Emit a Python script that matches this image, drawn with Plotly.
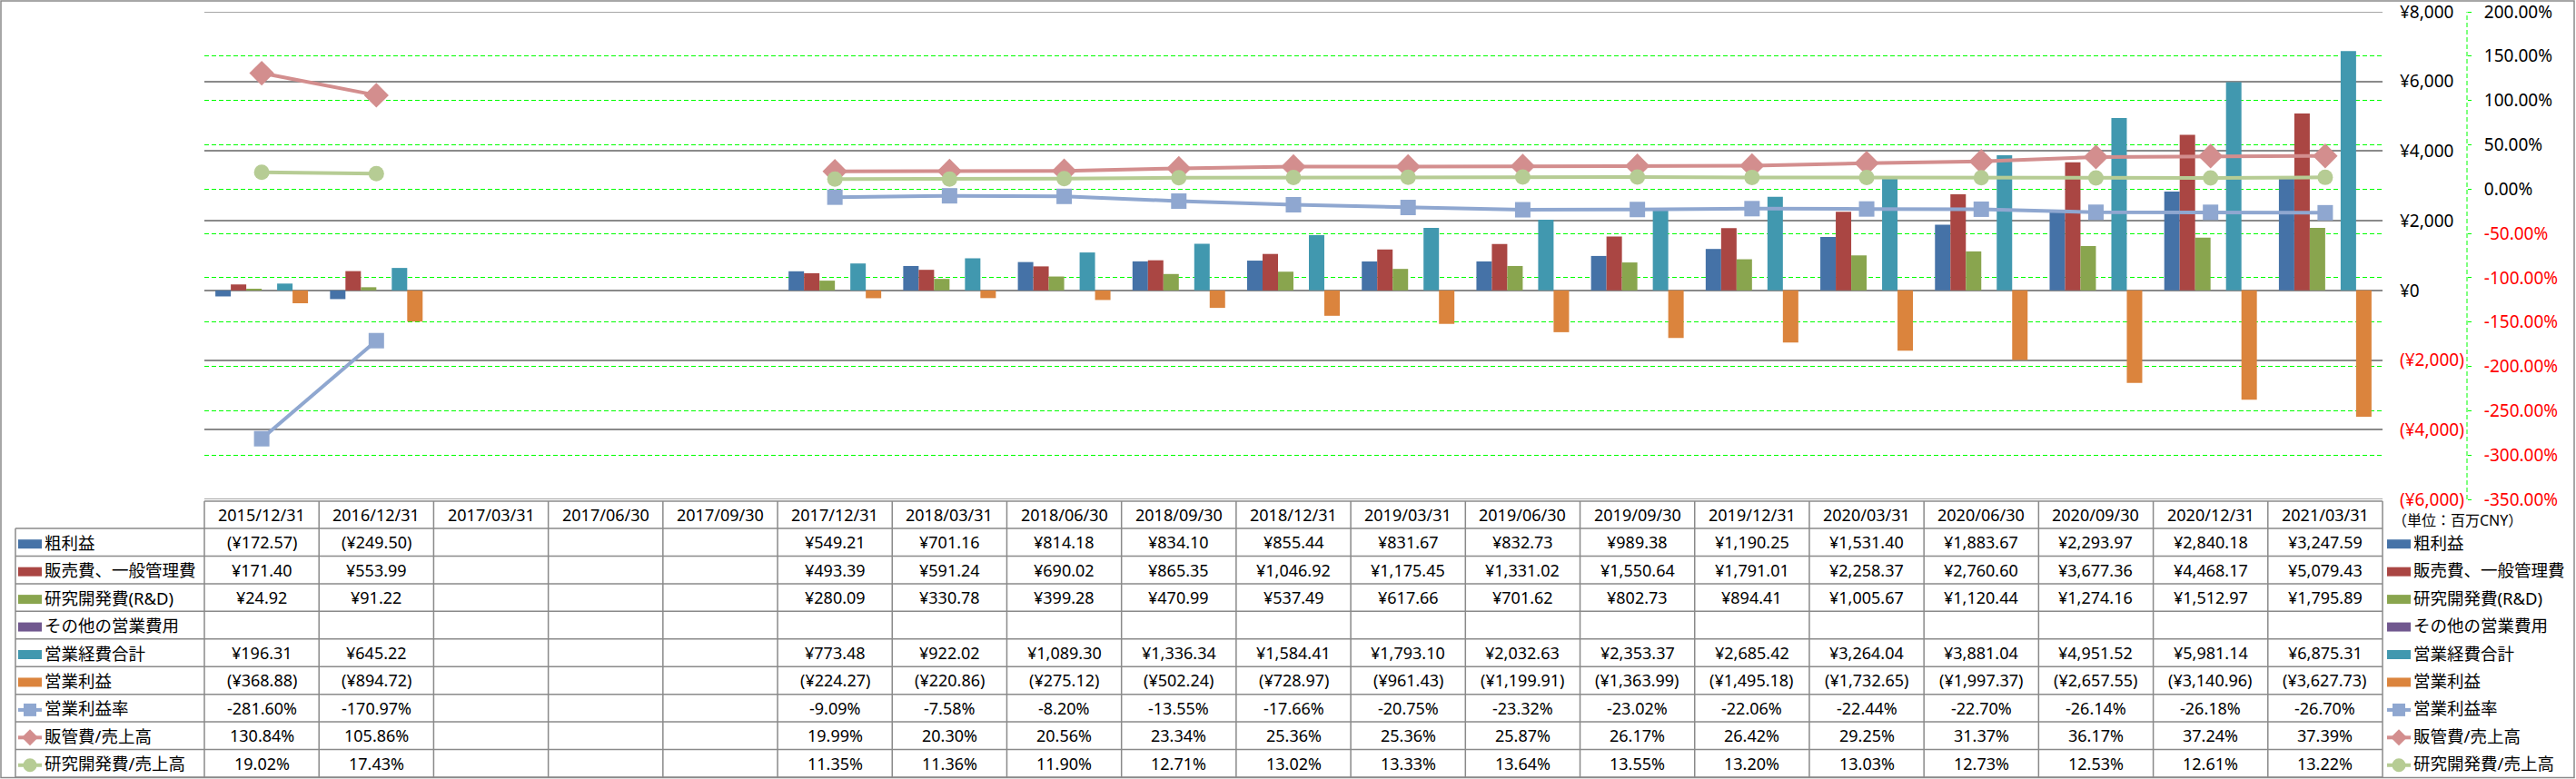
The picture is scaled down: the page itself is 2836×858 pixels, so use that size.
import plotly.graph_objects as go

categories = ["2015/12/31", "2016/12/31", "2017/03/31", "2017/06/30", "2017/09/30",
              "2017/12/31", "2018/03/31", "2018/06/30", "2018/09/30", "2018/12/31",
              "2019/03/31", "2019/06/30", "2019/09/30", "2019/12/31", "2020/03/31",
              "2020/06/30", "2020/09/30", "2020/12/31", "2021/03/31"]

gross_profit = [-172.57, -249.50, None, None, None, 549.21, 701.16, 814.18, 834.10, 855.44,
                831.67, 832.73, 989.38, 1190.25, 1531.40, 1883.67, 2293.97, 2840.18, 3247.59]
sga_expense = [171.40, 553.99, None, None, None, 493.39, 591.24, 690.02, 865.35, 1046.92,
               1175.45, 1331.02, 1550.64, 1791.01, 2258.37, 2760.60, 3677.36, 4468.17, 5079.43]
rnd_expense = [24.92, 91.22, None, None, None, 280.09, 330.78, 399.28, 470.99, 537.49,
               617.66, 701.62, 802.73, 894.41, 1005.67, 1120.44, 1274.16, 1512.97, 1795.89]
other_opex = [None] * 19
total_opex = [196.31, 645.22, None, None, None, 773.48, 922.02, 1089.30, 1336.34, 1584.41,
              1793.10, 2032.63, 2353.37, 2685.42, 3264.04, 3881.04, 4951.52, 5981.14, 6875.31]
operating_profit = [-368.88, -894.72, None, None, None, -224.27, -220.86, -275.12, -502.24, -728.97,
                    -961.43, -1199.91, -1363.99, -1495.18, -1732.65, -1997.37, -2657.55, -3140.96, -3627.73]
op_margin = [-281.60, -170.97, None, None, None, -9.09, -7.58, -8.20, -13.55, -17.66,
             -20.75, -23.32, -23.02, -22.06, -22.44, -22.70, -26.14, -26.18, -26.70]
sga_ratio = [130.84, 105.86, None, None, None, 19.99, 20.30, 20.56, 23.34, 25.36,
             25.36, 25.87, 26.17, 26.42, 29.25, 31.37, 36.17, 37.24, 37.39]
rnd_ratio = [19.02, 17.43, None, None, None, 11.35, 11.36, 11.90, 12.71, 13.02,
             13.33, 13.64, 13.55, 13.20, 13.03, 12.73, 12.53, 12.61, 13.22]

bar_names = ["粗利益", "販売費、一般管理費", "研究開発費(R&D)", "その他の営業費用", "営業経費合計", "営業利益"]
bar_series = [gross_profit, sga_expense, rnd_expense, other_opex, total_opex, operating_profit]
bar_colors = ["#4572A7", "#AA4643", "#89A54E", "#71588F", "#4198AF", "#DB843D"]

line_names = ["営業利益率", "販管費/売上高", "研究開発費/売上高"]
line_series = [op_margin, sga_ratio, rnd_ratio]
line_colors = ["#8FA7D0", "#D38E8E", "#B6CC94"]
line_symbols = ["square", "diamond", "circle"]
line_sizes = [17, 21, 17]

yen_ticks = list(range(-6000, 8001, 2000))
pct_ticks = list(range(-350, 201, 50))

# ---- geometry ----
W, H = 2836, 858
L, R, T, B = 225, 120, 13, 308
PW = W - L - R
PLOT_RIGHT = 2623
XD = (PLOT_RIGHT - L) / PW
PLOT_BOTTOM = H - B
PH = PLOT_BOTTOM - T

def px(p):
    return (p - L) / PW

def py(p):
    return (PLOT_BOTTOM - p) / PH

FONT = "Noto Sans, Noto Sans CJK JP, sans-serif"
GRID = "#8A8A8A"

fig = go.Figure()

n = len(bar_series)
bw = 0.808 / n
for k, (name, vals, col) in enumerate(zip(bar_names, bar_series, bar_colors)):
    fig.add_trace(go.Bar(x=categories, y=vals, name=name, marker=dict(color=col, line=dict(width=0)),
                         width=bw, offset=-0.404 + k * bw, yaxis="y", showlegend=False,
                         hoverinfo="skip"))

for name, vals, col, sym, sz in zip(line_names, line_series, line_colors, line_symbols, line_sizes):
    fig.add_trace(go.Scatter(x=categories, y=vals, name=name, mode="lines+markers", yaxis="y2",
                             line=dict(color=col, width=4),
                             marker=dict(symbol=sym, size=sz, color=col, line=dict(width=0)),
                             connectgaps=False, showlegend=False, hoverinfo="skip"))

def red(s):
    return '<span style="color:#FF0000">' + s + '</span>'

def yen_tick(v):
    s = "¥{:,}".format(abs(v))
    return red("(" + s + ")") if v < 0 else s

def pct_tick(v):
    s = "{:.2f}%".format(v)
    return red(s) if v < 0 else s

y1_lo, y1_hi = yen_ticks[0], yen_ticks[-1]
y2_lo, y2_hi = pct_ticks[0], pct_ticks[-1]

fig.update_layout(
    template="none",
    width=W, height=H,
    margin=dict(l=L, r=R, t=T, b=B, pad=0, autoexpand=False),
    paper_bgcolor="white", plot_bgcolor="white",
    barmode="overlay",
    showlegend=False,
    font=dict(family=FONT, size=19, color="#000000"),
    xaxis=dict(type="category", range=[-0.5, 18.5], domain=[0, XD], showticklabels=False,
               showgrid=False, zeroline=False, showline=False, ticks="", automargin=False),
    yaxis=dict(range=[y1_lo, y1_hi], side="right", tickvals=yen_ticks,
               ticktext=[yen_tick(v) for v in yen_ticks], showgrid=True, gridcolor=GRID,
               gridwidth=1.5, zeroline=False, showline=False, ticks="", automargin=False,
               ticklabeloverflow="allow",
               tickfont=dict(size=19, family=FONT, color="#000000"), ticklabelstandoff=18),
    yaxis2=dict(range=[y2_lo, y2_hi], overlaying="y", anchor="free", position=1,
                side="right", tickvals=pct_ticks, ticktext=[pct_tick(v) for v in pct_ticks],
                showgrid=True, gridcolor="#00FF00", gridwidth=1, griddash="5px,3px",
                zeroline=False, showline=False, ticks="outside", ticklen=4, tickcolor="#00FF00",
                tickwidth=1, tickfont=dict(size=19, family=FONT, color="#000000"),
                ticklabeloverflow="allow", ticklabelstandoff=10, automargin=False),
)

shapes = []
annotations = []

# gridlines on the plot edges (clipped by plotly otherwise)
for v in (y1_lo, y1_hi):
    shapes.append(dict(type="line", xref="paper", yref="y", x0=0, x1=XD, y0=v, y1=v,
                       line=dict(color=GRID, width=1.5), layer="below"))

# secondary axis dashed line
shapes.append(dict(type="line", xref="paper", yref="paper", x0=1, x1=1, y0=0, y1=1,
                   line=dict(color="#00FF00", width=1, dash="5px,3px")))

# outer border
shapes.append(dict(type="rect", xref="paper", yref="paper", x0=px(1), x1=px(2834),
                   y0=py(1), y1=py(856.5), line=dict(color=GRID, width=1.5), fillcolor="rgba(0,0,0,0)"))

# table geometry
ncol = len(categories)
colw = (PLOT_RIGHT - L) / ncol
tbl_top = 552
hdr_bot = 582
tbl_bot = 856
row_names = bar_names + line_names
nrows = len(row_names)
rh = (tbl_bot - hdr_bot) / nrows
label_left = 17

line_style = dict(color=GRID, width=1.5)
shapes.append(dict(type="line", xref="paper", yref="paper", x0=px(L), x1=px(PLOT_RIGHT),
                   y0=py(tbl_top), y1=py(tbl_top), line=line_style))
for i in range(nrows + 1):
    yy = hdr_bot + i * rh
    shapes.append(dict(type="line", xref="paper", yref="paper", x0=px(label_left), x1=px(PLOT_RIGHT),
                       y0=py(yy), y1=py(yy), line=line_style))
shapes.append(dict(type="line", xref="paper", yref="paper", x0=px(label_left), x1=px(label_left),
                   y0=py(hdr_bot), y1=py(tbl_bot), line=line_style))
for j in range(ncol + 1):
    xx = L + j * colw
    shapes.append(dict(type="line", xref="paper", yref="paper", x0=px(xx), x1=px(xx),
                       y0=py(tbl_top), y1=py(tbl_bot), line=line_style))

def fmt_yen(v):
    if v is None:
        return ""
    s = "¥{:,.2f}".format(abs(v))
    return "(" + s + ")" if v < 0 else s

def fmt_pct(v):
    if v is None:
        return ""
    return "{:.2f}%".format(v)

CELL_FONT = dict(family=FONT, size=18, color="#000000")
LABEL_FONT = dict(family=FONT, size=18.5, color="#000000")

for j, c in enumerate(categories):
    annotations.append(dict(x=c, xref="x", y=py((tbl_top + hdr_bot) / 2), yref="paper", text=c,
                            showarrow=False, xanchor="center", yanchor="middle", font=CELL_FONT))

row_values = [[fmt_yen(v) for v in s] for s in bar_series] + [[fmt_pct(v) for v in s] for s in line_series]
for i, vals in enumerate(row_values):
    yc = hdr_bot + (i + 0.5) * rh
    for j, t in enumerate(vals):
        if t:
            annotations.append(dict(x=categories[j], xref="x", y=py(yc), yref="paper", text=t,
                                    showarrow=False, xanchor="center", yanchor="middle", font=CELL_FONT))

# legend keys (table label column and right-side legend)
row_colors = bar_colors + line_colors
row_kind = ["bar"] * len(bar_names) + line_symbols

def add_key(x0, yc, kind, col):
    x1 = x0 + 26
    if kind == "bar":
        shapes.append(dict(type="rect", xref="paper", yref="paper", x0=px(x0), x1=px(x1),
                           y0=py(yc - 3), y1=py(yc + 7), fillcolor=col, line=dict(width=0)))
        return
    shapes.append(dict(type="line", xref="paper", yref="paper", x0=px(x0), x1=px(x1),
                       y0=py(yc + 2), y1=py(yc + 2), line=dict(color=col, width=4)))
    cx = (x0 + x1) / 2
    cy = yc + 2
    if kind == "square":
        s = 7
        shapes.append(dict(type="rect", xref="paper", yref="paper", x0=px(cx - s), x1=px(cx + s),
                           y0=py(cy - s), y1=py(cy + s), fillcolor=col, line=dict(width=0)))
    elif kind == "diamond":
        s = 9
        path = "M {} {} L {} {} L {} {} L {} {} Z".format(px(cx), py(cy - s), px(cx + s), py(cy),
                                                           px(cx), py(cy + s), px(cx - s), py(cy))
        shapes.append(dict(type="path", xref="paper", yref="paper", path=path, fillcolor=col,
                           line=dict(width=0)))
    else:
        s = 7.5
        shapes.append(dict(type="circle", xref="paper", yref="paper", x0=px(cx - s), x1=px(cx + s),
                           y0=py(cy - s), y1=py(cy + s), fillcolor=col, line=dict(width=0)))

for i, name in enumerate(row_names):
    yc = hdr_bot + (i + 0.5) * rh
    add_key(20, yc, row_kind[i], row_colors[i])
    annotations.append(dict(x=px(47), xref="paper", y=py(yc), yref="paper", text=name,
                            showarrow=False, xanchor="left", yanchor="middle", font=LABEL_FONT))
    add_key(2628, yc, row_kind[i], row_colors[i])
    annotations.append(dict(x=px(2655), xref="paper", y=py(yc), yref="paper", text=name,
                            showarrow=False, xanchor="left", yanchor="middle", font=LABEL_FONT))

annotations.append(dict(x=px(2632), xref="paper", y=py(573), yref="paper", text="（単位：百万CNY）",
                        showarrow=False, xanchor="left", yanchor="middle",
                        font=dict(family=FONT, size=16, color="#000000")))

fig.update_layout(shapes=shapes, annotations=annotations)
fig.write_html("out.html", config={"displayModeBar": False},
               post_script="document.body.style.margin='0';document.body.style.overflow='hidden';")
